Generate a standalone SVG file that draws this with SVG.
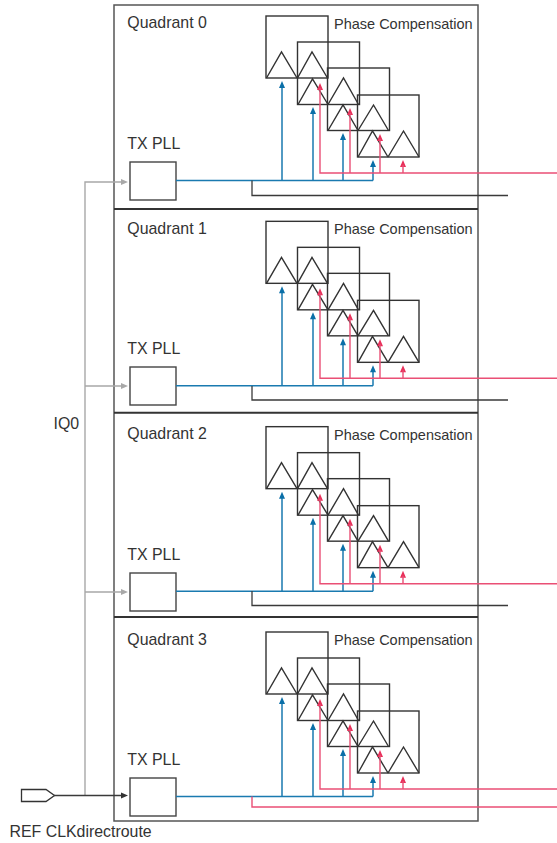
<svg xmlns="http://www.w3.org/2000/svg" width="557" height="843" viewBox="0 0 557 843">
<style>
text{font-family:"Liberation Sans",Arial,sans-serif;fill:#333;font-size:15.9px}
text.pc{font-size:14.5px}
.frame{fill:none;stroke:#555;stroke-width:1.5}
.div{fill:none;stroke:#333;stroke-width:1.9}
.box{fill:none;stroke:#333;stroke-width:1.4}
.pll{fill:#fff;stroke:#444;stroke-width:1.4}
.blue{fill:none;stroke:#1a7ab0;stroke-width:1.5}
.red{fill:none;stroke:#ea4f75;stroke-width:1.4}
.blk{fill:none;stroke:#3a3a3a;stroke-width:1.3}
.gry{fill:none;stroke:#a8a8a8;stroke-width:1.4}
.hb{fill:#0a6fa8}.hr{fill:#e8305a}.hk{fill:#333}.hg{fill:#a8a8a8}
</style>
<defs>
<g id="phase">
<rect class="box" x="266" y="16" width="62" height="62"/>
<rect class="box" x="297.500" y="42" width="62" height="62.500"/>
<rect class="box" x="327.500" y="68" width="62" height="62.500"/>
<rect class="box" x="357.500" y="95" width="61.500" height="62"/>
<path class="box" d="M266.500 78L281.500 52L297 78M297.500 78L312 52L327.500 78M298 104.500L312.500 79L328 104.500M328 104.500L343.500 78L358.500 104.500M328 130.500L343 105L358 130.500M358 130.500L373.500 105L388.500 130.500M358 157L372.500 131L388 157M388 157L403.500 131L419 157"/>
</g>
<g id="arrows">
<path class="blue" d="M176 180.500H373M282 180.500V86M313 180.500V112M343 180.500V138M373 180.500V165"/>
<path class="hb" d="M282 81L285 88H279ZM313 107L316 114H310ZM343 133L346 140H340ZM373 160L376 167H370Z"/>
<path class="hr" d="M320 83L323 90H317ZM350 108L353 115H347ZM380 134L383 141H377ZM403 160L406 167H400Z"/>
</g>
</defs>
<g id="quadrant-frame">
<rect class="frame" x="114" y="5" width="364" height="816"/>
<path class="div" d="M114 209H478M114 412.800H478M114 617H478"/>
</g>
<g id="quadrant-0"><text x="127.300" y="28">Quadrant 0</text><text x="127.300" y="149">TX PLL</text><text class="pc" x="334" y="29">Phase Compensation</text><use href="#phase"/><rect class="pll" x="130" y="162" width="46" height="38"/></g>
<g id="quadrant-1"><text x="127.300" y="234">Quadrant 1</text><text x="127.300" y="354">TX PLL</text><text class="pc" x="334" y="234">Phase Compensation</text><use href="#phase" y="205.330"/><rect class="pll" x="130" y="367" width="46" height="38"/></g>
<g id="quadrant-2"><text x="127.300" y="439">Quadrant 2</text><text x="127.300" y="560">TX PLL</text><text class="pc" x="334" y="440">Phase Compensation</text><use href="#phase" y="410.670"/><rect class="pll" x="130" y="573" width="46" height="38"/></g>
<g id="quadrant-3"><text x="127.300" y="644.500">Quadrant 3</text><text x="127.300" y="765">TX PLL</text><text class="pc" x="334" y="645">Phase Compensation</text><use href="#phase" y="616"/><rect class="pll" x="130" y="778" width="46" height="38"/></g>
<g id="ref-clk"><path d="M21.500 789.500H46L54.500 795.500L46 801.500H21.500Z" fill="#fff" stroke="#333" stroke-width="1.300"/><text x="9.500" y="836.700">REF CLKdirectroute</text></g>
<g id="iq0"><text x="53.500" y="428.700">IQ0</text></g>
<g id="connectors">
<path class="gry" d="M85 795V182H122M85 386H122M85 592H122"/>
<path class="hg" d="M128 182L121 179V185ZM128 386L121 383V389ZM128 592L121 589V595Z"/>
<path class="blk" d="M54 795.500H122"/><path class="hk" d="M128 795.500L121 792.500V798.500Z"/>
<use href="#arrows"/><use href="#arrows" y="205.330"/><use href="#arrows" y="410.670"/><use href="#arrows" y="616"/>
<path class="red" d="M320 88V173H557M350 113V173M380 139V173M403 165V173"/>
<path class="red" d="M320 293.300V378.300H557M350 318.300V378.300M380 344.300V378.300M403 370.300V378.300"/>
<path class="red" d="M320 498.700V583.700H557M350 523.700V583.700M380 549.700V583.700M403 575.700V583.700"/>
<path class="red" d="M320 704V789H557M350 729V789M380 755V789M403 781V789"/>
<path class="blk" d="M252 180.500V195.500H508M252 386V400H508M252 591V605.500H508"/>
<path class="red" d="M252 796.500V807H557"/>
</g>
</svg>
